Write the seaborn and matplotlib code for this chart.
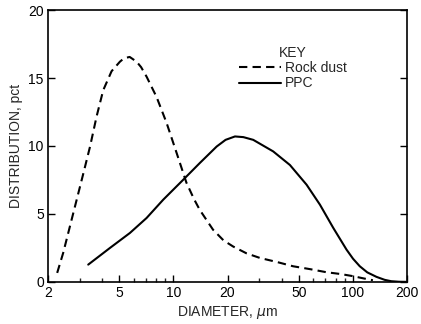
import numpy as np
import pandas as pd
import matplotlib
matplotlib.use("Agg")
import matplotlib.pyplot as plt
import seaborn as sns
from matplotlib.ticker import FixedLocator, NullFormatter

# valores
rock_diam = [2.25, 2.43, 2.65, 2.89, 3.15, 3.43, 3.73, 4.06, 4.52, 5.03, 5.3, 5.7, 6.23,
             6.6, 7.08, 8.05, 9.15, 10.4, 11.8, 13.0, 14.0, 16.6, 19.0, 21.5, 25.5, 30.3,
             38.0, 46.3, 58.0, 71.1, 85.0, 100, 115, 129]
rock_dist = [0.66, 2.13, 4.09, 6.05, 8.0, 9.96, 12.17, 14.1, 15.5, 16.2, 16.45, 16.55, 16.2,
             15.8, 15.1, 13.6, 11.7, 9.5, 7.3, 6.1, 5.3, 3.84, 3.05, 2.6, 2.1, 1.76,
             1.45, 1.15, 0.93, 0.71, 0.58, 0.42, 0.25, 0.12]

ppc_diam = [3.35, 4.43, 5.72, 7.08, 8.77, 11.3, 14.0, 17.4, 19.5, 22.0, 24.5, 27.8, 35.9,
            44.5, 55.1, 65.4, 77.6, 92.0, 100, 109, 120, 135, 150, 163, 180, 200]
ppc_dist = [1.27, 2.5, 3.6, 4.7, 6.05, 7.5, 8.74, 9.96, 10.45, 10.7, 10.65, 10.45, 9.6,
            8.6, 7.15, 5.68, 3.97, 2.37, 1.7, 1.15, 0.7, 0.37, 0.15, 0.05, 0.01, 0.0]

series_names = ["Rock dust", "PPC"]
x_ticks = [2, 5, 10, 20, 50, 100, 200]
y_ticks = [0, 5, 10, 15, 20]

df = pd.concat([
    pd.DataFrame({"diam": rock_diam, "dist": rock_dist, "serie": series_names[0]}),
    pd.DataFrame({"diam": ppc_diam, "dist": ppc_dist, "serie": series_names[1]}),
])

sns.set_style("ticks")
plt.rcParams["font.family"] = ["Liberation Sans", "DejaVu Sans"]

fig = plt.figure(figsize=(4.21, 3.24), dpi=100)
ax = fig.add_axes([0.114, 0.130, 0.853, 0.839])

sns.lineplot(data=df, x="diam", y="dist", hue="serie", style="serie",
             hue_order=series_names, style_order=series_names,
             palette=["black", "black"], dashes={"Rock dust": (4, 2.5), "PPC": ""},
             linewidth=1.5, sort=False, estimator=None, ax=ax)

ax.set_xscale("log")
ax.set_xlim(2, 200)
ax.set_ylim(0, 20)
ax.xaxis.set_major_locator(FixedLocator(x_ticks))
ax.set_xticklabels([str(t) for t in x_ticks])
minors = [v * d for d in (1, 10, 100) for v in range(2, 10) if 2 < v * d < 200 and v * d not in x_ticks]
ax.xaxis.set_minor_locator(FixedLocator(minors))
ax.xaxis.set_minor_formatter(NullFormatter())
ax.set_yticks(y_ticks)

ax.tick_params(axis="both", which="major", direction="in", length=5, width=1,
               labelsize=10, colors="black", pad=3)
ax.tick_params(axis="x", which="minor", direction="in", length=3, width=1)
ax.tick_params(axis="y", right=True)
for s in ax.spines.values():
    s.set_visible(True)
    s.set_linewidth(1.2)
    s.set_color("black")

ax.set_xlabel("DIAMETER, $\\mu$m", fontsize=10, labelpad=3)
ax.set_ylabel("DISTRIBUTION, pct", fontsize=10, labelpad=4)

leg = ax.legend(title="KEY", loc="upper left", bbox_to_anchor=(0.505, 0.905),
                frameon=False, fontsize=10, title_fontsize=10,
                handlelength=3.0, handletextpad=0.3, labelspacing=0.1,
                borderpad=0.2)

fig.savefig("out.png", dpi=100)
